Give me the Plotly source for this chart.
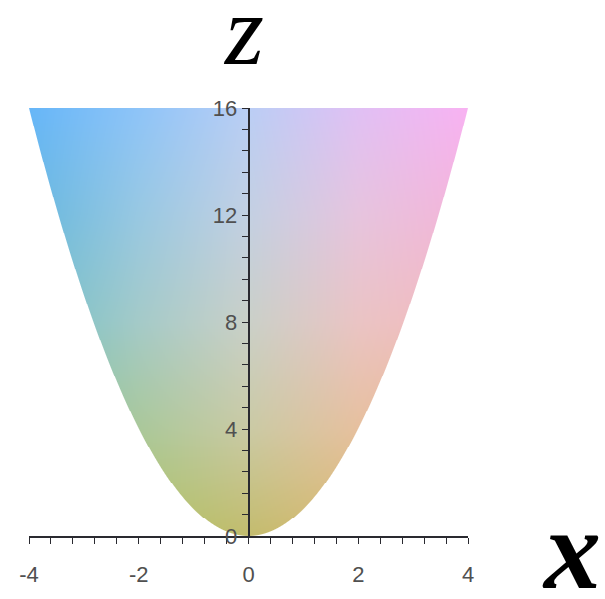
import numpy as np
import plotly.graph_objects as go

# Region above the parabola z = x^2, shaded with a smooth 2-D colour wash
x_range = [-4.0, 4.0]
z_range = [0.0, 16.0]
x_ticks = [-4, -2, 0, 2, 4]
x_tick_text = ["-4", "-2", "0", "2", "4"]
z_ticks = [0, 4, 8, 12, 16]
z_tick_text = ["0", "4", "8", "12", "16"]

# colour control grid: columns at these x, rows at these z
shade_x = [-4, -2, 0, 2, 4]
shade_z = [0, 4, 8, 12, 16]
shade_rows = [
    ["#96c864", "#afc364", "#c3bc6e", "#dcb872", "#ecb46a"],   # z = 0
    ["#86c69a", "#aac89a", "#cacaa4", "#e6c09e", "#f0b894"],   # z = 4
    ["#74c0c6", "#a4cac8", "#cad0c8", "#eac4c4", "#f4b8be"],   # z = 8
    ["#68b8de", "#98c8e2", "#c3d0e2", "#e6c4de", "#f4b4d8"],   # z = 12
    ["#66b6f8", "#8ec4f8", "#bacef5", "#e0c0f4", "#f8b2f2"],   # z = 16
]

nx, ny = 440, 440


def hex_rgb(h):
    return [int(h[i:i + 2], 16) for i in (1, 3, 5)]


grid = np.array([[hex_rgb(c) for c in row] for row in shade_rows], float)

dx = (x_range[1] - x_range[0]) / nx
dz = (z_range[1] - z_range[0]) / ny
xs = x_range[0] + dx * (np.arange(nx) + 0.5)
zs = z_range[0] + dz * (np.arange(ny) + 0.5)
X, Z = np.meshgrid(xs, zs)

# bilinear interpolation on the control grid
ix = np.clip(np.searchsorted(shade_x, xs) - 1, 0, len(shade_x) - 2)
iz = np.clip(np.searchsorted(shade_z, zs) - 1, 0, len(shade_z) - 2)
sx = np.array(shade_x, float)
sz = np.array(shade_z, float)
tx = (xs - sx[ix]) / (sx[ix + 1] - sx[ix])
tz = (zs - sz[iz]) / (sz[iz + 1] - sz[iz])
IX, IZ = np.meshgrid(ix, iz)
TX, TZ = np.meshgrid(tx, tz)
TX = TX[..., None]
TZ = TZ[..., None]
c00 = grid[IZ, IX]
c01 = grid[IZ, IX + 1]
c10 = grid[IZ + 1, IX]
c11 = grid[IZ + 1, IX + 1]
rgb = (c00 * (1 - TX) * (1 - TZ) + c01 * TX * (1 - TZ)
       + c10 * (1 - TX) * TZ + c11 * TX * TZ)

# soft edge along the curve (distance measured in screen pixels)
px_per_x = 439 / 8.0
px_per_z = 439 / 16.0
f = Z - X ** 2
grad = np.sqrt((2 * X / px_per_x) ** 2 + (1 / px_per_z) ** 2)
alpha = np.clip(f / grad + 0.5, 0, 1)

rgba = np.dstack([rgb, alpha[..., None] * 255]).round().astype(int)

fig = go.Figure()
fig.add_trace(go.Image(
    z=rgba, colormodel="rgba256",
    x0=xs[0], dx=dx, y0=zs[0], dy=dz,
    hoverinfo="skip",
))

axis_font = dict(family="Liberation Sans, Arial, sans-serif", size=22, color="#505050")
line_col = "#2a2a30"
serif = "Liberation Serif, Times New Roman, serif"

fig.update_layout(
    width=605, height=599,
    margin=dict(l=29, r=137, t=108, b=52),
    paper_bgcolor="white", plot_bgcolor="white",
    showlegend=False,
    xaxis=dict(
        range=x_range, autorange=False, showgrid=False, zeroline=False,
        showline=True, linecolor=line_col, linewidth=1.5,
        tickvals=x_ticks, ticktext=x_tick_text,
        ticks="outside", ticklen=6, tickwidth=1.3,
        tickcolor=line_col, tickfont=axis_font, ticklabelstandoff=12,
        minor=dict(dtick=0.4, tick0=0, ticks="outside", ticklen=6,
                   tickwidth=1.3, tickcolor=line_col, showgrid=False),
    ),
    yaxis=dict(
        range=z_range, autorange=False, showgrid=False, zeroline=False,
        anchor="free", position=0.5, scaleanchor=False,
        showline=True, linecolor=line_col, linewidth=1.5,
        tickvals=z_ticks, ticktext=z_tick_text,
        ticks="outside", ticklen=6, tickwidth=1.3,
        tickcolor=line_col, tickfont=axis_font, ticklabelstandoff=0,
        minor=dict(dtick=0.8, tick0=0, ticks="outside", ticklen=6,
                   tickwidth=1.3, tickcolor=line_col, showgrid=False),
    ),
    annotations=[
        dict(text="z", xref="paper", yref="paper",
             x=(243 - 29) / 439, y=(547 - 28) / 439,
             xanchor="center", yanchor="middle", showarrow=False,
             font=dict(family=serif, size=100, color="black", style="italic")),
        dict(text="x", xref="paper", yref="paper",
             x=(571 - 29) / 439, y=(547 - 561) / 439,
             xanchor="center", yanchor="middle", showarrow=False,
             font=dict(family=serif, size=114, color="black",
                       style="italic", weight="bold")),
    ],
)

fig.write_html("out.html")
